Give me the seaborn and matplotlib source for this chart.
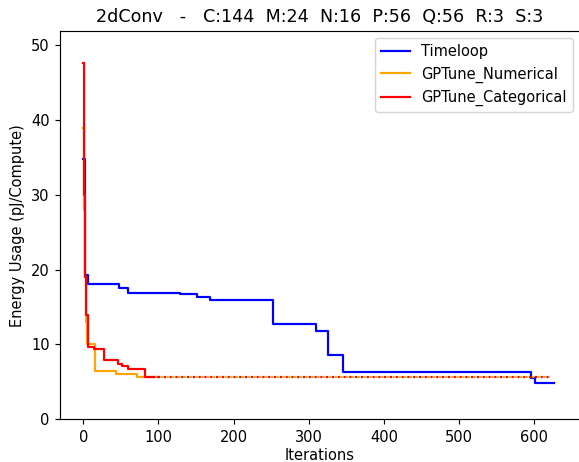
import numpy as np
import pandas as pd
import seaborn as sns
import matplotlib
matplotlib.use("Agg")
import matplotlib.pyplot as plt

# best-so-far energy per iteration (step breakpoints)
tl_iter = [0, 2, 6, 48, 60, 129, 151, 169, 253, 310, 326, 345, 596, 601, 626]
tl_energy = [34.8, 19.3, 18.1, 17.5, 16.9, 16.7, 16.35, 16.0, 12.8, 11.85, 8.65, 6.3, 5.5, 4.8, 4.8]

num_iter = [0, 1, 2, 3, 5, 16, 43, 72, 96]
num_energy = [39.0, 28.0, 19.0, 13.0, 10.0, 6.5, 6.0, 5.65, 5.65]

cat_iter = [0, 1, 2, 3, 6, 14, 28, 46, 52, 59, 82, 100]
cat_energy = [47.6, 30.0, 19.0, 14.0, 9.7, 9.35, 7.9, 7.35, 7.1, 6.7, 5.65, 5.65]

last_iter = 621

DPI = 105
fig = plt.figure(figsize=(579 / DPI, 462 / DPI), dpi=DPI)
ax = fig.add_axes([0.1036, 0.0924, 0.8982, 0.8405])

sns.lineplot(x=tl_iter, y=tl_energy, color="blue", drawstyle="steps-post", label="Timeloop", ax=ax)
sns.lineplot(x=num_iter, y=num_energy, color="orange", drawstyle="steps-post", label="GPTune_Numerical", ax=ax)
sns.lineplot(x=cat_iter, y=cat_energy, color="red", drawstyle="steps-post", label="GPTune_Categorical", ax=ax)

# extend the final GPTune results as dotted lines
ax.plot([num_iter[-1], last_iter], [num_energy[-1], num_energy[-1]], ":", color="orange")
ax.plot([cat_iter[-1], last_iter], [cat_energy[-1], cat_energy[-1]], ":", color="red")

ax.set_xlim(-31, 661)
ax.set_ylim(0, 51.9)
ax.set_xticks([0, 100, 200, 300, 400, 500, 600])
ax.set_yticks([0, 10, 20, 30, 40, 50])
ax.set_xlabel("Iterations", labelpad=2.5)
ax.set_ylabel("Energy Usage (pJ/Compute)")
ax.set_title("2dConv   -   C:144  M:24  N:16  P:56  Q:56  R:3  S:3")
ax.legend(loc="upper right")

fig.savefig("out.png", dpi=DPI)
